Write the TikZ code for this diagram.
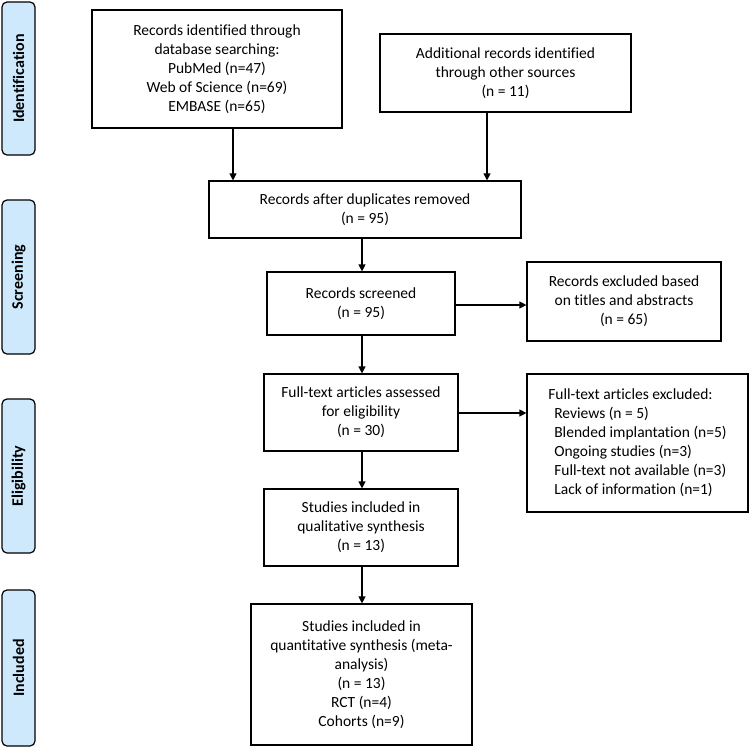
\documentclass[tikz,border=0pt]{standalone}
\usepackage{fontspec}
\setmainfont{Carlito}[Ligatures=NoCommon]
\usetikzlibrary{arrows.meta}
\definecolor{phasefill}{RGB}{205,233,251}
\begin{document}
\begin{tikzpicture}[x=1pt,y=-1pt,
  box/.style={draw, line width=1.2pt, inner sep=0pt, align=center, font=\fontsize{15.5}{19}\selectfont},
  phasebox/.style={draw, line width=1.2pt, fill=phasefill, rounded corners=5pt, rotate=90,
     minimum height=33pt, inner sep=0pt, font=\fontsize{16}{19}\selectfont\bfseries},
  arr/.style={line width=1.2pt, -{Triangle[length=7pt,width=7pt]}}]
\useasboundingbox (0,0) rectangle (749,747);

% phase bars
\node[phasebox, minimum width=153pt] (pid) at (18.5,78.5) {Identification};
\node[phasebox, minimum width=154pt] (psc) at (18.5,277) {Screening};
\node[phasebox, minimum width=154pt] (pel) at (18.5,476) {Eligibility};
\node[phasebox, minimum width=156pt] (pin) at (18.5,668) {Included};

% boxes
\node[box, minimum width=250pt, minimum height=118pt] (b1) at (217,69)
  {Records identified through\\database searching:\\PubMed (n=47)\\Web of Science (n=69)\\EMBASE (n=65)};
\node[box, minimum width=251pt, minimum height=78pt] (b2) at (505.5,73)
  {Additional records identified\\through other sources\\(n = 11)};
\node[box, minimum width=312pt, minimum height=57pt] (dup) at (365,209.5)
  {Records after duplicates removed\\(n = 95)};
\node[box, minimum width=188pt, minimum height=63pt] (scr) at (361,303.5)
  {Records screened\\(n = 95)};
\node[box, minimum width=194pt, minimum height=79pt] (exc1) at (624,301.5)
  {Records excluded based\\on titles and abstracts\\(n = 65)};
\node[box, minimum width=194pt, minimum height=77pt] (ft) at (361,412.5)
  {Full-text articles assessed\\for eligibility\\(n = 30)};
\node[box, minimum width=221pt, minimum height=138pt, align=left] (exc2) at (637.5,443)
  {Full-text articles excluded:\\
   \hspace*{6pt}Reviews (n = 5)\\
   \hspace*{6pt}Blended implantation (n=5)\\
   \hspace*{6pt}Ongoing studies (n=3)\\
   \hspace*{6pt}Full-text not available (n=3)\\
   \hspace*{6pt}Lack of information (n=1)};
\node[box, minimum width=194pt, minimum height=77pt] (qual) at (361,527.5)
  {Studies included in\\qualitative synthesis\\(n = 13)};
\node[box, minimum width=221pt, minimum height=141pt] (quant) at (361.5,674.5)
  {Studies included in\\quantitative synthesis (meta-\\analysis)\\(n = 13)\\RCT (n=4)\\Cohorts (n=9)};

% connectors
\coordinate (a1) at (233,0);
\coordinate (a2) at (487,0);
\coordinate (a3) at (362,0);
\draw[arr] (b1.south -| a1) -- (dup.north -| a1);
\draw[arr] (b2.south -| a2) -- (dup.north -| a2);
\draw[arr] (dup.south -| a3) -- (scr.north -| a3);
\draw[arr] (scr.south -| a3) -- (ft.north -| a3);
\draw[arr] (ft.south -| a3) -- (qual.north -| a3);
\draw[arr] (qual.south -| a3) -- (quant.north -| a3);
\coordinate (h1) at (0,305);
\coordinate (h2) at (0,413);
\draw[arr] (scr.east |- h1) -- (exc1.west |- h1);
\draw[arr] (ft.east |- h2) -- (exc2.west |- h2);
\end{tikzpicture}
\end{document}
